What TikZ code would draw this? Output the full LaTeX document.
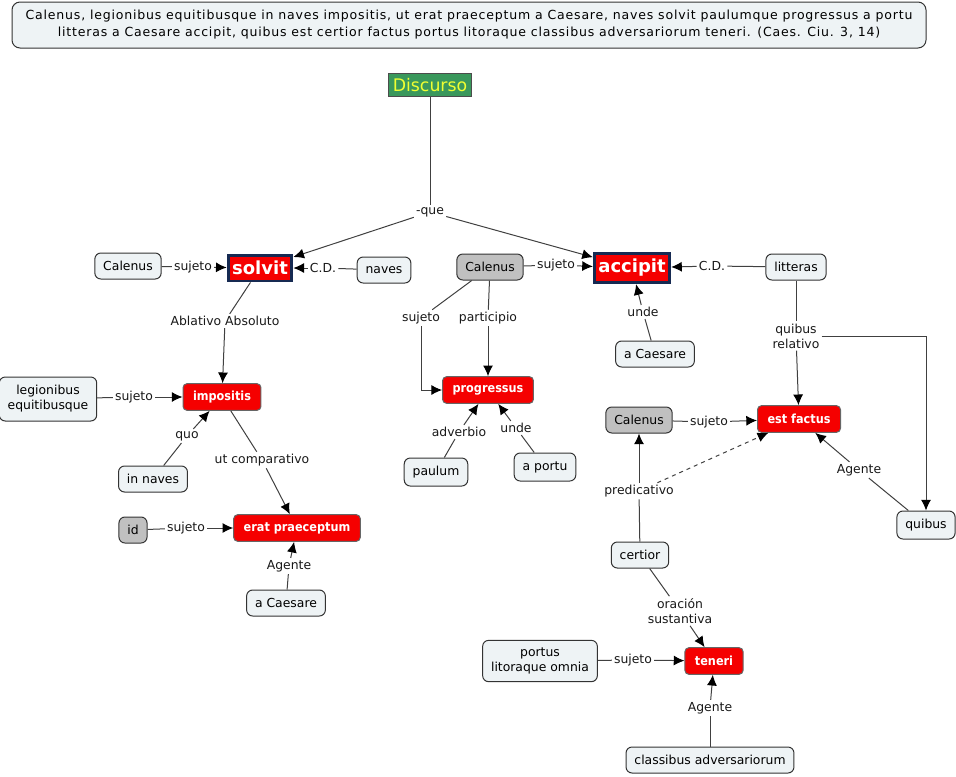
\documentclass[tikz,border=0pt]{standalone}
\usepackage{fontspec}
\setmainfont{DejaVu Sans}
\newfontfamily\condensed{DejaVu Sans Condensed}
\newfontfamily\spaced{DejaVu Sans}[LetterSpace = 6.4]
\usetikzlibrary{arrows.meta}

\definecolor{paper}{RGB}{238,243,245}
\definecolor{grey}{RGB}{192,192,192}
\definecolor{verbred}{RGB}{245,0,0}
\definecolor{navy}{RGB}{22,42,82}
\definecolor{leaf}{RGB}{58,152,92}
\definecolor{lemon}{RGB}{240,255,50}

\begin{document}
\begin{tikzpicture}[x = 0.75pt, y = -0.75pt, > = {Latex[length = 8pt, width = 7.5pt, color = black]},
	every node/.style = {font = \fontsize{9.3}{11.25}\selectfont},
	concept/.style = {draw = black!80, line width = 0.75pt, fill = paper, rounded corners = 4.5pt, inner xsep = 6.3pt, inner ysep = 3pt, minimum height = 19.5pt, align = center},
	verb/.style = {draw = black!60, line width = 0.75pt, fill = verbred, rounded corners = 3pt, text = white, inner xsep = 7.5pt, minimum height = 20pt, font = \condensed\bfseries\fontsize{9.4}{11}\selectfont},
	mainverb/.style = {draw = navy, line width = 2.2pt, fill = verbred, text = white, inner xsep = 3pt, inner ysep = 4.5pt, font = \fontsize{13.5}{16}\selectfont\bfseries},
	linking/.style = {fill = white, inner sep = 1.5pt, text = black!90, align = center},
	link/.style = {draw = black!75, line width = 0.75pt}]

	\useasboundingbox (0, 0) rectangle (956, 776);

	% Passage of Caesar

	\node [concept, rounded corners = 6pt, minimum width = 685.5pt, minimum height = 34.5pt, font = \spaced\fontsize{9.4}{12.75}\selectfont] (passage) at (469, 25)
		{Calenus, legionibus equitibusque in naves impositis, ut erat praeceptum a Caesare, naves solvit paulumque progressus a portu\\
		litteras a Caesare accipit, quibus est certior factus portus litoraque classibus adversariorum teneri. (Caes. Ciu. 3, 14)};

	% Verbs

	\node [draw = black!70, line width = 0.75pt, fill = leaf, text = lemon, inner xsep = 3.5pt, minimum height = 17.25pt, font = \fontsize{13}{15}\selectfont] (discurso) at (430, 85) {Discurso};
	\node [mainverb] (solvit) at (260, 268) {solvit};
	\node [mainverb] (accipit) at (632, 268) {accipit};
	\node [verb] (impositis) at (222, 397) {impositis};
	\node [verb] (praeceptum) at (297, 528) {erat praeceptum};
	\node [verb] (progressus) at (488, 390) {progressus};
	\node [verb] (factus) at (799, 419) {est factus};
	\node [verb] (teneri) at (714, 661) {teneri};

	% Other concepts

	\node [concept] (calenusA) at (128, 266) {Calenus};
	\node [concept] (naves) at (384, 270) {naves};
	\node [concept, fill = grey] (calenusB) at (490, 267) {Calenus};
	\node [concept] (litteras) at (796, 267) {litteras};
	\node [concept] (caesareA) at (655, 354) {a Caesare};
	\node [concept, minimum height = 33pt] (legionibus) at (48, 399) {legionibus\\equitibusque};
	\node [concept] (innaves) at (153, 479) {in naves};
	\node [concept, fill = grey] (id) at (133, 530) {id};
	\node [concept] (caesareB) at (286, 603) {a Caesare};
	\node [concept, minimum height = 21pt] (paulum) at (436, 472) {paulum};
	\node [concept, minimum height = 21pt] (portu) at (545, 467) {a portu};
	\node [concept, fill = grey] (calenusC) at (639, 420) {Calenus};
	\node [concept] (certior) at (640, 555) {certior};
	\node [concept, minimum height = 21pt] (quibus) at (926, 525) {quibus};
	\node [concept, minimum height = 31pt] (portus) at (540, 661) {portus\\litoraque omnia};
	\node [concept] (classibus) at (710, 760) {classibus adversariorum};

	% Linking phrases

	\node [linking] (que) at (430, 212) {-que};
	\node [linking] (sujA) at (193, 267) {sujeto};
	\node [linking] (cdA) at (323, 268) {C.D.};
	\node [linking] (ablativo) at (225, 321) {Ablativo Absoluto};
	\node [linking] (sujB) at (556, 265) {sujeto};
	\node [linking] (cdB) at (712, 266) {C.D.};
	\node [linking] (undeA) at (643, 312) {unde};
	\node [linking] (sujC) at (421, 318) {sujeto};
	\node [linking] (participio) at (488, 318) {participio};
	\node [linking] (quibrel) at (796, 336) {quibus\\relativo};
	\node [linking] (sujD) at (134, 397) {sujeto};
	\node [linking] (quo) at (187, 436) {quo};
	\node [linking] (utcomp) at (262, 460) {ut comparativo};
	\node [linking] (sujE) at (186, 528) {sujeto};
	\node [linking] (agenteA) at (289, 566) {Agente};
	\node [linking] (adverbio) at (459, 432) {adverbio};
	\node [linking] (undeB) at (516, 428) {unde};
	\node [linking] (sujF) at (709, 422) {sujeto};
	\node [linking] (predicativo) at (639, 491) {predicativo};
	\node [linking] (agenteB) at (859, 470) {Agente};
	\node [linking] (oracion) at (680, 611) {oración\\sustantiva};
	\node [linking] (sujG) at (633, 660) {sujeto};
	\node [linking] (agenteC) at (710, 708) {Agente};

	% Concept to linking phrase

	\foreach \from/\to in {discurso/que, calenusA/sujA, naves/cdA, solvit/ablativo, calenusB/sujB, litteras/cdB, caesareA/undeA, calenusB/sujC, calenusB/participio, litteras/quibrel, legionibus/sujD, innaves/quo, impositis/utcomp, id/sujE, caesareB/agenteA, paulum/adverbio, portu/undeB, calenusC/sujF, certior/predicativo, quibus/agenteB, certior/oracion, portus/sujG, classibus/agenteC}
		\draw [link] (\from) -- (\to);

	% Linking phrase to concept

	\foreach \from/\to in {que/solvit, que/accipit, sujA/solvit, cdA/solvit, ablativo/impositis, sujB/accipit, cdB/accipit, undeA/accipit, participio/progressus, quibrel/factus, sujD/impositis, quo/impositis, utcomp/praeceptum, sujE/praeceptum, agenteA/praeceptum, adverbio/progressus, undeB/progressus, sujF/factus, predicativo/calenusC, agenteB/factus, oracion/teneri, sujG/teneri, agenteC/teneri}
		\draw [link, ->] (\from) -- (\to);

	\draw [link, ->] (sujC) |- (progressus);
	\draw [link, ->] (quibrel) -| (quibus);
	\draw [link, ->, dashed] (predicativo) -- (factus);

\end{tikzpicture}
\end{document}
